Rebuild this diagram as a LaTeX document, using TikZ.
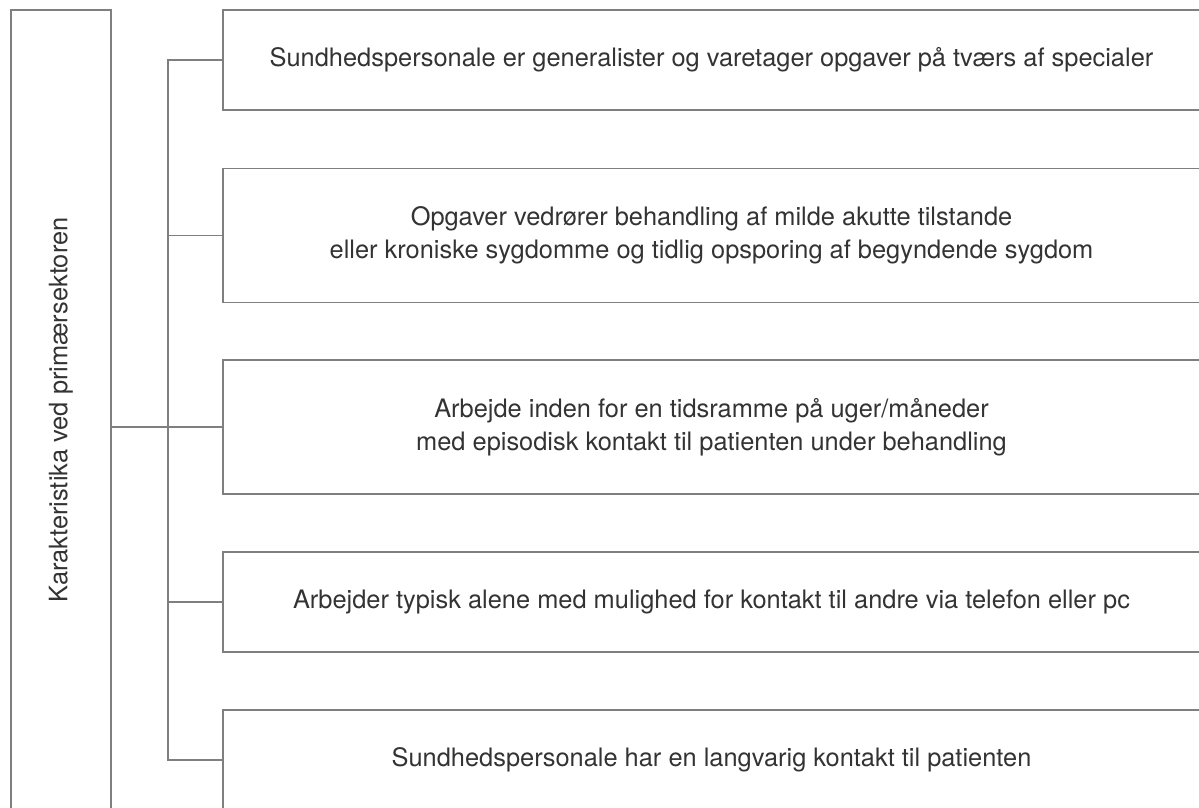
\documentclass[tikz,border=0pt]{standalone}
\usepackage{fontspec}
\setmainfont{TeX Gyre Heros}
\usepackage{xcolor}
\usepackage{tikz}
\definecolor{linegray}{HTML}{7F7F7F}
\definecolor{textgray}{HTML}{333333}
\tikzset{
  box/.style={draw=linegray, line width=1.3pt, minimum width=977pt, inner sep=0pt,
    align=center, text=textgray, font=\fontsize{25.4}{33}\selectfont},
  link/.style={draw=linegray, line width=1.2pt}
}

\begin{document}
\begin{tikzpicture}[x=1pt, y=-1pt]
    \useasboundingbox (0,0) rectangle (1199,808);
    \clip (0,0) rectangle (1199,808);
    \coordinate (bus) at (168, 0);
    \node[box, minimum width=100pt, minimum height=800pt] (kar) at (61, 410)
      {\rotatebox{90}{Karakteristika ved primærsektoren}};
    \node[box, minimum height=100pt] (b1) at (711.5, 60)
      {Sundhedspersonale er generalister og varetager opgaver på tværs af specialer};
    \node[box, minimum height=134pt] (b2) at (711.5, 235.5)
      {Opgaver vedrører behandling af milde akutte tilstande\\eller kroniske sygdomme og tidlig opsporing af begyndende sygdom};
    \node[box, minimum height=134pt] (b3) at (711.5, 427)
      {Arbejde inden for en tidsramme på uger/måneder\\med episodisk kontakt til patienten under behandling};
    \node[box, minimum height=100pt] (b4) at (711.5, 602)
      {Arbejder typisk alene med mulighed for kontakt til andre via telefon eller pc};
    \node[box, minimum height=100pt] (b5) at (711.5, 760)
      {Sundhedspersonale har en langvarig kontakt til patienten};
    \draw[link] (kar.east |- b3.west) -- (b3.west);
    \draw[link] (b1.west) -- (b1.west -| bus) -- (b5.west -| bus) -- (b5.west);
    \foreach \b in {b2, b4}
      \draw[link] (\b.west -| bus) -- (\b.west);
\end{tikzpicture}
\end{document}
